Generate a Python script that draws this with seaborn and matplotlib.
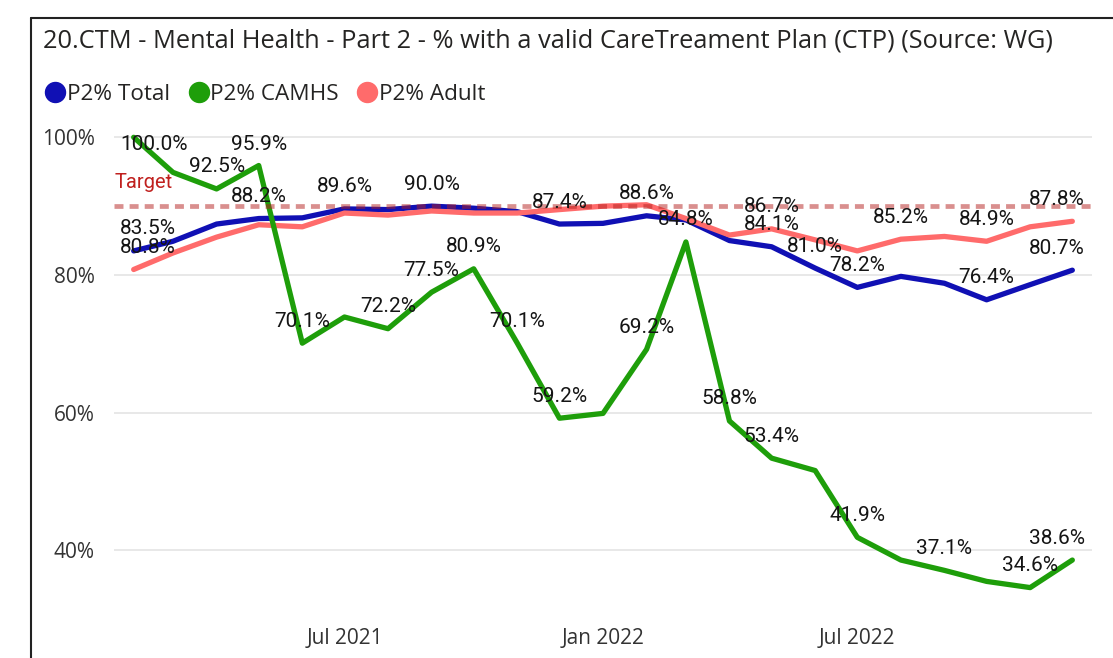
import numpy as np
import pandas as pd
import matplotlib
matplotlib.use('Agg')
import matplotlib.pyplot as plt
import matplotlib.dates as mdates
from matplotlib.lines import Line2D
import seaborn as sns

# monthly values, Feb 2021 .. Dec 2022
months = pd.date_range('2021-02-01', '2022-12-01', freq='MS')

total = [83.5, 84.9, 87.4, 88.2, 88.3, 89.6, 89.5, 90.0, 89.7, 89.2, 87.4, 87.5,
         88.6, 88.0, 85.0, 84.1, 81.0, 78.2, 79.8, 78.8, 76.4, 78.6, 80.7]
camhs = [100.0, 94.9, 92.5, 95.9, 70.1, 73.9, 72.2, 77.5, 80.9, 70.1, 59.2, 59.9,
         69.2, 84.8, 58.8, 53.4, 51.6, 41.9, 38.6, 37.1, 35.5, 34.6, 38.6]
adult = [80.8, 83.2, 85.5, 87.3, 87.0, 89.0, 88.7, 89.3, 89.0, 89.0, 89.5, 90.0,
         90.2, 88.2, 85.8, 86.7, 85.1, 83.5, 85.2, 85.6, 84.9, 87.0, 87.8]
target = 90

# points that carry a data label
total_lbl = [0, 3, 5, 7, 10, 12, 15, 16, 17, 20, 22]
camhs_lbl = [0, 2, 3, 4, 6, 7, 8, 9, 10, 12, 13, 14, 15, 17, 19, 21, 22]
adult_lbl = [0, 15, 18, 20, 22]

names = ['P2% Total', 'P2% CAMHS', 'P2% Adult']
colors = {'P2% Total': '#1010b4', 'P2% CAMHS': '#1e9e0a', 'P2% Adult': '#ff6b6b'}
title = '20.CTM - Mental Health - Part 2 - % with a valid CareTreament Plan (CTP) (Source: WG)'

df = pd.DataFrame({
    'date': list(months) * 3,
    'value': total + camhs + adult,
    'series': [names[0]] * len(total) + [names[1]] * len(camhs) + [names[2]] * len(adult),
})

sns.set_theme(style='white')
plt.rcParams['font.family'] = ['Open Sans', 'DejaVu Sans']
lbl_font = ['Roboto', 'DejaVu Sans']

W, H = 1113, 658
fig = plt.figure(figsize=(W / 100, H / 100), dpi=100)
ax = fig.add_axes([114 / W, 1 - 615 / H, 978 / W, 487 / H])

sns.lineplot(data=df, x='date', y='value', hue='series',
             hue_order=['P2% Total', 'P2% Adult', 'P2% CAMHS'],
             palette=colors, linewidth=3.8, legend=False, ax=ax)

ax.axhline(target, color='#b4201e', alpha=0.5, lw=3.4, dashes=(1.9, 1.3), zorder=5)
ax.annotate('Target', xy=(0, target), xycoords=('axes fraction', 'data'),
            xytext=(1, 24), textcoords='offset pixels', ha='left', va='center',
            color='#c0201e', fontsize=14.5, family=lbl_font)

ax.set_xlim(pd.Timestamp('2021-01-18'), pd.Timestamp('2022-12-15'))
ax.set_ylim(30.62, 101.35)
ax.set_yticks([40, 60, 80, 100])
ax.set_yticklabels([f'{v}%' for v in [40, 60, 80, 100]])
ax.set_xticks([pd.Timestamp('2021-07-01'), pd.Timestamp('2022-01-01'), pd.Timestamp('2022-07-01')])
ax.xaxis.set_major_formatter(mdates.DateFormatter('%b %Y'))
ax.set_xlabel('')
ax.set_ylabel('')
ax.grid(axis='y', color='#e6e6e6', lw=1.3)
ax.grid(axis='x', visible=False)
for s in ax.spines.values():
    s.set_visible(False)
ax.tick_params(axis='y', length=0, pad=14, labelsize=15, labelcolor='#333333')
ax.tick_params(axis='x', length=0, pad=9, labelsize=15, labelcolor='#333333')

# data labels, kept inside the plot area like the original
renderer = fig.canvas.get_renderer()


def put_label(d, v):
    x, y = ax.transData.transform((mdates.date2num(d), v))
    t = ax.text(0, 0, f'{v:.1f}%', fontsize=15, family=lbl_font, color='#151515',
                ha='center', va='center', zorder=10)
    w = t.get_window_extent(renderer).width
    x = min(max(x, ax.bbox.x0 + 6 + w / 2), ax.bbox.x1 - 7 - w / 2)
    y = min(y + 22, ax.bbox.y1 - 17)
    t.set_position(ax.transData.inverted().transform((x, y)))


for vals, idx in [(total, total_lbl), (camhs, camhs_lbl), (adult, adult_lbl)]:
    for i in idx:
        put_label(months[i], vals[i])

fig.text(43 / W, 1 - 47.5 / H, title, fontsize=18.3, va='baseline', ha='left', color='#252423')

handles = [Line2D([], [], marker='o', ls='', color=colors[n], markersize=14.4) for n in names]
fig.legend(handles, names, loc='center left', bbox_to_anchor=(45 / W, 1 - 94 / H),
           ncol=3, frameon=False, handletextpad=0.05, columnspacing=0.8,
           handlelength=0.93, fontsize=16.2, borderaxespad=0, borderpad=0,
           labelcolor='#252423')

fig.add_artist(Line2D([31 / W, 31 / W], [0, 1 - 18 / H], color='#222222', lw=1.5))
fig.add_artist(Line2D([31 / W, 1], [1 - 18 / H, 1 - 18 / H], color='#222222', lw=1.5))

fig.savefig('out.png', dpi=100)
